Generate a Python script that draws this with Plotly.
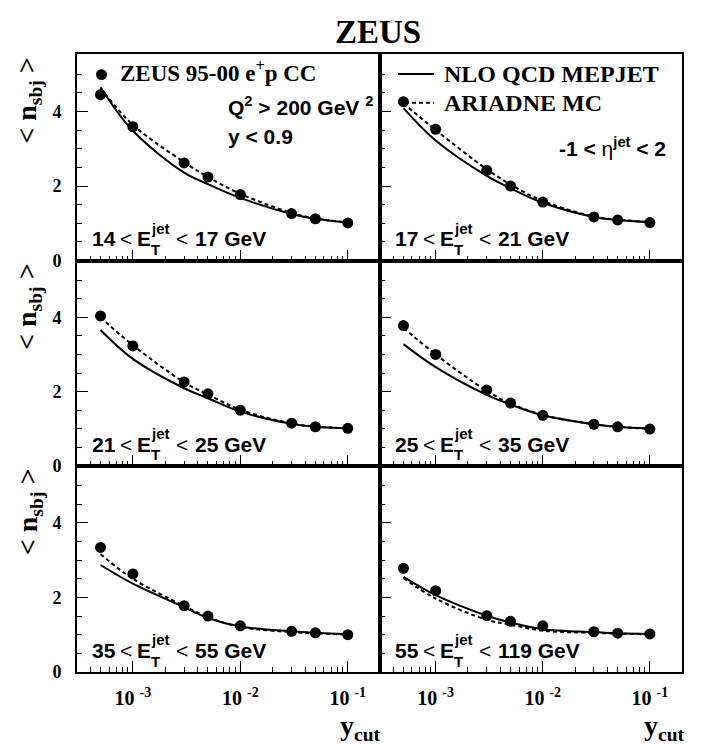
import plotly.graph_objects as go

# ---------------- data ----------------
ycut = [5e-4, 1e-3, 3e-3, 5e-3, 1e-2, 3e-2, 5e-2, 1e-1]

data_14_17 = [4.45, 3.59, 2.62, 2.24, 1.77, 1.26, 1.12, 1.01]
nlo_14_17 = [4.65, 3.48, 2.36, 2.05, 1.68, 1.25, 1.12, 1.02]
ari_14_17 = [4.62, 3.64, 2.64, 2.24, 1.79, 1.28, 1.13, 1.02]

data_17_21 = [4.26, 3.52, 2.42, 2.00, 1.57, 1.17, 1.09, 1.02]
nlo_17_21 = [4.09, 3.22, 2.27, 1.94, 1.55, 1.17, 1.09, 1.03]
ari_17_21 = [4.22, 3.50, 2.45, 2.04, 1.60, 1.18, 1.10, 1.03]

data_21_25 = [4.04, 3.23, 2.26, 1.94, 1.50, 1.15, 1.05, 1.01]
nlo_21_25 = [3.66, 2.88, 2.09, 1.82, 1.46, 1.13, 1.05, 1.01]
ari_21_25 = [4.00, 3.25, 2.25, 1.92, 1.51, 1.14, 1.06, 1.01]

data_25_35 = [3.78, 3.00, 2.04, 1.69, 1.36, 1.12, 1.05, 0.99]
nlo_25_35 = [3.28, 2.66, 1.91, 1.65, 1.36, 1.12, 1.05, 1.00]
ari_25_35 = [3.72, 3.00, 2.02, 1.68, 1.37, 1.12, 1.05, 1.00]

data_35_55 = [3.34, 2.63, 1.78, 1.50, 1.24, 1.09, 1.05, 1.00]
nlo_35_55 = [2.87, 2.37, 1.74, 1.45, 1.22, 1.09, 1.05, 1.01]
ari_35_55 = [3.16, 2.50, 1.77, 1.47, 1.21, 1.07, 1.04, 1.00]

data_55_119 = [2.78, 2.18, 1.51, 1.36, 1.24, 1.08, 1.04, 1.02]
nlo_55_119 = [2.55, 2.06, 1.51, 1.33, 1.15, 1.07, 1.04, 1.02]
ari_55_119 = [2.52, 1.97, 1.40, 1.27, 1.11, 1.05, 1.03, 1.01]

et_bins = [("14", "17"), ("17", "21"), ("21", "25"),
           ("25", "35"), ("35", "55"), ("55", "119")]
panels = [
    (data_14_17, nlo_14_17, ari_14_17),
    (data_17_21, nlo_17_21, ari_17_21),
    (data_21_25, nlo_21_25, ari_21_25),
    (data_25_35, nlo_25_35, ari_25_35),
    (data_35_55, nlo_35_55, ari_35_55),
    (data_55_119, nlo_55_119, ari_55_119),
]

x_major = [1e-3, 1e-2, 1e-1]
x_major_text = ["10 <sup>-3</sup>", "10 <sup>-2</sup>", "10 <sup>-1</sup>"]
x_minor = [4e-4, 5e-4, 6e-4, 7e-4, 8e-4, 9e-4,
           2e-3, 3e-3, 4e-3, 5e-3, 6e-3, 7e-3, 8e-3, 9e-3,
           2e-2, 3e-2, 4e-2, 5e-2, 6e-2, 7e-2, 8e-2, 9e-2]
y_major = [0, 2, 4]
y_minor = [0.5, 1, 1.5, 2.5, 3, 3.5, 4.5, 5]

# ---------------- geometry ----------------
W, H = 702, 749
def px(x):
    return x / W
def py(y):
    return 1 - y / H

col_x = [(69, 372), (372, 674)]
row_y = [(47, 256), (256, 464), (464, 673)]

SERIF = "Liberation Serif"
SANS = "Liberation Sans"

fig = go.Figure()
layout = dict(
    width=W, height=H,
    margin=dict(l=0, r=0, t=0, b=0),
    paper_bgcolor="white", plot_bgcolor="white",
    showlegend=False,
)

for i, (dat, nlo, ari) in enumerate(panels):
    r, c = divmod(i, 2)
    n = i + 1
    xa = "x" if n == 1 else f"x{n}"
    ya = "y" if n == 1 else f"y{n}"
    fig.add_trace(go.Scatter(x=ycut, y=nlo, xaxis=xa, yaxis=ya, mode="lines",
                             line=dict(color="black", width=2, shape="spline")))
    fig.add_trace(go.Scatter(x=ycut, y=ari, xaxis=xa, yaxis=ya, mode="lines",
                             line=dict(color="black", width=2, dash="4px,3px",
                                       shape="spline")))
    fig.add_trace(go.Scatter(x=ycut, y=dat, xaxis=xa, yaxis=ya, mode="markers",
                             marker=dict(color="black", size=11, symbol="circle")))
    xkey = "xaxis" if n == 1 else f"xaxis{n}"
    ykey = "yaxis" if n == 1 else f"yaxis{n}"
    x0, x1 = col_x[c]
    yt, yb = row_y[r]
    layout[xkey] = dict(
        type="log", range=[-3.52, -0.70], domain=[px(x0), px(x1)],
        anchor=ya, showgrid=False, zeroline=False,
        showline=True, linecolor="black", linewidth=2, mirror=True,
        ticks="inside", ticklen=11, tickwidth=1, tickcolor="black",
        tickmode="array", tickvals=x_major, ticktext=x_major_text,
        showticklabels=(r == 2), ticklabelstandoff=7,
        tickfont=dict(family=SERIF, size=20, color="black", weight="bold"),
        minor=dict(ticks="inside", ticklen=5, tickwidth=1, tickcolor="black",
                   tickmode="array", tickvals=x_minor, showgrid=False),
    )
    layout[ykey] = dict(
        range=[0, 5.53], domain=[py(yb), py(yt)],
        anchor=xa, showgrid=False, zeroline=False,
        showline=True, linecolor="black", linewidth=2, mirror=True,
        ticks="inside", ticklen=11, tickwidth=1, tickcolor="black",
        tickmode="array", tickvals=y_major,
        showticklabels=(c == 0), ticklabelstandoff=10,
        tickfont=dict(family=SERIF, size=18, color="black", weight="bold"),
        minor=dict(ticks="inside", ticklen=5, tickwidth=1, tickcolor="black",
                   tickmode="array", tickvals=y_minor, showgrid=False),
    )

annotations = []
shapes = []

def txt(x, y, s, size, family, xanchor="left", yanchor="middle", angle=0, bold=True):
    annotations.append(dict(
        x=px(x), y=py(y), xref="paper", yref="paper", text=s, showarrow=False,
        xanchor=xanchor, yanchor=yanchor, textangle=angle, borderpad=0,
        font=dict(family=family, size=size, color="black",
                  weight="bold" if bold else "normal"),
    ))

# title
txt(370, 24, "ZEUS", 33, SERIF, xanchor="center")

# y-axis titles
for (yt, yb) in row_y:
    txt(21, yt + 47, "&lt; n<sub>sbj</sub> &gt;", 28, SERIF, xanchor="center", angle=-90)

# x-axis titles
txt(374, 729, "y<sub>cut</sub>", 28, SERIF, xanchor="right")
txt(678, 729, "y<sub>cut</sub>", 28, SERIF, xanchor="right")

# legend entries
shapes.append(dict(type="circle", xref="paper", yref="paper",
                   x0=px(88), x1=px(99), y0=py(73), y1=py(62),
                   fillcolor="black", line=dict(color="black", width=0)))
txt(111, 64, "ZEUS 95-00 e<sup>+</sup>p CC", 23, SERIF)
shapes.append(dict(type="line", xref="paper", yref="paper",
                   x0=px(390), x1=px(426), y0=py(67), y1=py(67),
                   line=dict(color="black", width=2)))
txt(435, 67, "NLO QCD MEPJET", 24, SERIF)
shapes.append(dict(type="line", xref="paper", yref="paper",
                   x0=px(390), x1=px(426), y0=py(96), y1=py(96),
                   line=dict(color="black", width=2, dash="4px,3px")))
txt(435, 96, "ARIADNE MC", 24, SERIF)

# cut texts
txt(219, 99, "Q<sup>2</sup> &gt; 200 GeV <sup>2</sup>", 21, SANS)
txt(219, 130, "y &lt; 0.9", 21, SANS)
txt(550, 141, "-1 &lt; <span style='font-weight:normal'>η</span><sup>jet</sup> &lt; 2", 21, SANS)

# E_T bin labels, built from pieces so that "jet" and "T" stack on each other
for i, (lo, hi) in enumerate(et_bins):
    r, c = divmod(i, 2)
    x0 = 83 if c == 0 else 386
    yb = row_y[r][1]
    ym = yb - 22
    txt(x0, ym, lo, 21, SANS)
    txt(x0 + 34.5, ym, "&lt;", 21, SANS, xanchor="center", bold=False)
    txt(x0 + 45, ym, "E", 21, SANS)
    txt(x0 + 59, ym - 11, "jet", 15, SANS)
    txt(x0 + 59, ym + 11, "T", 15, SANS)
    txt(x0 + 91, ym, "&lt;", 21, SANS, xanchor="center", bold=False)
    txt(x0 + 103, ym, f"{hi} GeV", 21, SANS)

layout["annotations"] = annotations
layout["shapes"] = shapes
fig.update_layout(**layout)
fig.write_html("out.html")
